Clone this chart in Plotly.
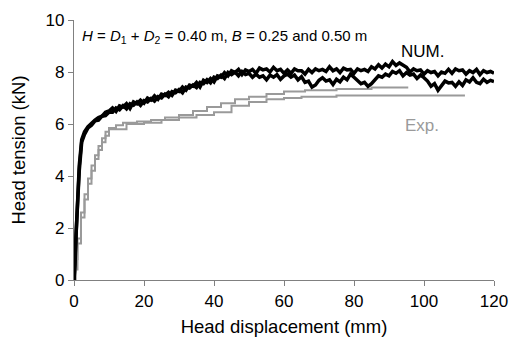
import plotly.graph_objects as go

# ---------------- data ----------------
num_a_x = [0, 0.3, 0.6, 1.0, 1.5, 2.2, 3, 4, 5, 6, 7, 8, 9, 10] + list(range(11, 121))
num_a_y = [0, 0.8, 2.0, 3.3, 4.4, 5.4, 5.7, 5.9, 6.05, 6.15, 6.25, 6.3, 6.45, 6.5,
           6.62, 6.48, 6.7, 6.65, 6.78, 6.6, 6.85, 6.78, 6.92, 6.8,
           7.0, 6.92, 7.08, 6.95, 7.15, 7.1, 7.22, 7.1, 7.3, 7.25,
           7.42, 7.3, 7.5, 7.45, 7.6, 7.42, 7.68, 7.6, 7.75, 7.62,
           7.85, 7.8, 7.98, 7.85, 8.05, 7.98, 8.1, 7.9, 8.08, 8.02,
           8.1, 7.95, 8.15, 8.08, 8.12, 8.0, 8.18, 8.05, 8.1, 7.95,
           8.08, 7.95, 8.12, 8.05, 8.05, 7.92, 8.1, 7.98, 8.12, 8.05,
           8.1, 8.02, 8.2, 8.05, 8.12, 7.98, 8.15, 8.08, 8.1, 7.95,
           8.12, 8.05, 8.1, 8.02, 8.2, 8.12, 8.28, 8.15, 8.3, 8.2,
           8.4, 8.25, 8.35, 8.25, 8.18, 8.0, 8.12, 8.05, 8.08, 7.92,
           8.05, 7.98, 8.02, 7.85, 8.0, 7.95, 8.1, 7.95, 8.12, 8.05,
           8.08, 7.92, 8.05, 7.98, 8.1, 7.9, 8.05, 7.98, 8.02, 7.95]

num_b_x = [0, 0.3, 0.6, 1.0, 1.5, 2.2, 3, 4, 5, 6, 7, 8, 9, 10] + list(range(11, 121))
num_b_y = [0, 0.6, 1.8, 3.0, 4.2, 5.3, 5.6, 5.85, 5.95, 6.12, 6.15, 6.3, 6.32, 6.45,
           6.45, 6.62, 6.55, 6.7, 6.58, 6.78, 6.72, 6.85, 6.72, 6.9,
           6.85, 6.98, 6.88, 7.05, 7.0, 7.15, 7.05, 7.25, 7.2, 7.32,
           7.2, 7.42, 7.38, 7.5, 7.4, 7.6, 7.55, 7.7, 7.58, 7.8,
           7.75, 7.88, 7.75, 7.98, 7.9, 8.0, 7.85, 8.02, 7.9, 7.95,
           7.8, 7.92, 7.8, 7.85, 7.7, 7.88, 7.8, 7.9, 7.72, 7.85,
           7.92, 7.8, 7.88, 7.7, 7.82, 7.6, 7.65, 7.42, 7.5, 7.68,
           7.78, 7.65, 7.7, 7.52, 7.72, 7.62, 7.8, 7.7, 7.92, 7.8,
           7.65, 7.55, 7.6, 7.45, 7.55, 7.7, 7.85, 7.8, 7.92, 7.85,
           8.02, 7.95, 8.05, 7.85, 7.98, 7.88, 7.92, 7.75, 7.88, 7.78,
           7.65, 7.45, 7.55, 7.3, 7.5, 7.65, 7.58, 7.6, 7.45, 7.62,
           7.48, 7.7, 7.62, 7.78, 7.6, 7.55, 7.72, 7.6, 7.68, 7.63]

exp_a_x = [0, 0.5, 1, 2, 3, 4, 5, 6, 7, 8, 9, 10, 12, 14, 18, 22, 26, 30, 34, 38,
           42, 46, 50, 55, 60, 66, 75, 85, 95.5]
exp_a_y = [0, 0.8, 1.6, 2.6, 3.3, 3.9, 4.4, 4.8, 5.15, 5.45, 5.7, 5.85, 5.95, 6.05,
           6.1, 6.15, 6.25, 6.35, 6.5, 6.65, 6.8, 6.95, 7.05, 7.15, 7.25, 7.3, 7.35,
           7.4, 7.4]

exp_b_x = [0, 0.3, 1, 2, 3, 4, 5, 6, 7, 8, 9, 10, 15, 20, 25, 30, 35, 40, 45, 50,
           55, 60, 65, 75, 111.7]
exp_b_y = [0, 0.4, 1.4, 2.4, 3.1, 3.7, 4.2, 4.65, 5.0, 5.3, 5.55, 5.8, 6.0, 6.05,
           6.15, 6.25, 6.35, 6.45, 6.7, 6.85, 6.95, 7.0, 7.05, 7.1, 7.1]

x_ticks = [0, 20, 40, 60, 80, 100, 120]
y_ticks = [0, 2, 4, 6, 8, 10]

# ---------------- figure ----------------
FONT = "Liberation Sans, Arial, sans-serif"
GRAY = "#9a9a9a"
fig = go.Figure()

for xs, ys in [(exp_a_x, exp_a_y), (exp_b_x, exp_b_y)]:
    fig.add_trace(go.Scatter(x=xs, y=ys, mode="lines", line=dict(color=GRAY, width=2, shape="hv"),
                             showlegend=False, hoverinfo="skip", cliponaxis=False))
for xs, ys in [(num_a_x, num_a_y), (num_b_x, num_b_y)]:
    fig.add_trace(go.Scatter(x=xs, y=ys, mode="lines", line=dict(color="black", width=3.5),
                             showlegend=False, hoverinfo="skip", cliponaxis=False))

fig.add_annotation(x=1.7, y=9.38, xref="x", yref="y", xanchor="left", yanchor="middle",
                   text="<i>H</i> = <i>D</i><sub>1</sub> + <i>D</i><sub>2</sub> = 0.40 m, <i>B</i> = 0.25 and 0.50 m",
                   showarrow=False, font=dict(family=FONT, size=15, color="black"))
fig.add_annotation(x=99.7, y=8.77, xref="x", yref="y", text="NUM.", showarrow=False,
                   font=dict(family=FONT, size=17, color="black"))
fig.add_annotation(x=99.4, y=5.96, xref="x", yref="y", text="Exp.", showarrow=False,
                   font=dict(family=FONT, size=17, color=GRAY))

axis_common = dict(showgrid=False, zeroline=False, showline=True, linecolor="#808080", linewidth=1.2,
                   ticks="outside", ticklen=5, tickcolor="#808080", tickwidth=1.2, automargin=False,
                   tickfont=dict(family=FONT, size=17, color="black"))
fig.update_xaxes(range=[0, 120], tickvals=x_ticks,
                 title=dict(text="Head displacement (mm)", font=dict(family=FONT, size=18.5, color="black"), standoff=10),
                 **axis_common)
fig.update_yaxes(range=[0, 10], tickvals=y_ticks,
                 title=dict(text="Head tension (kN)", font=dict(family=FONT, size=18.5, color="black"), standoff=15),
                 **axis_common)

fig.update_layout(width=511, height=338, margin=dict(l=74, r=17, t=20, b=58),
                  plot_bgcolor="white", paper_bgcolor="white", font=dict(family=FONT))
# remove the browser's default 8px body margin so the figure sits at the page origin
fig.write_html("out.html", config={"displayModeBar": False},
               post_script="document.body.style.margin='0';document.body.style.overflow='hidden';")
